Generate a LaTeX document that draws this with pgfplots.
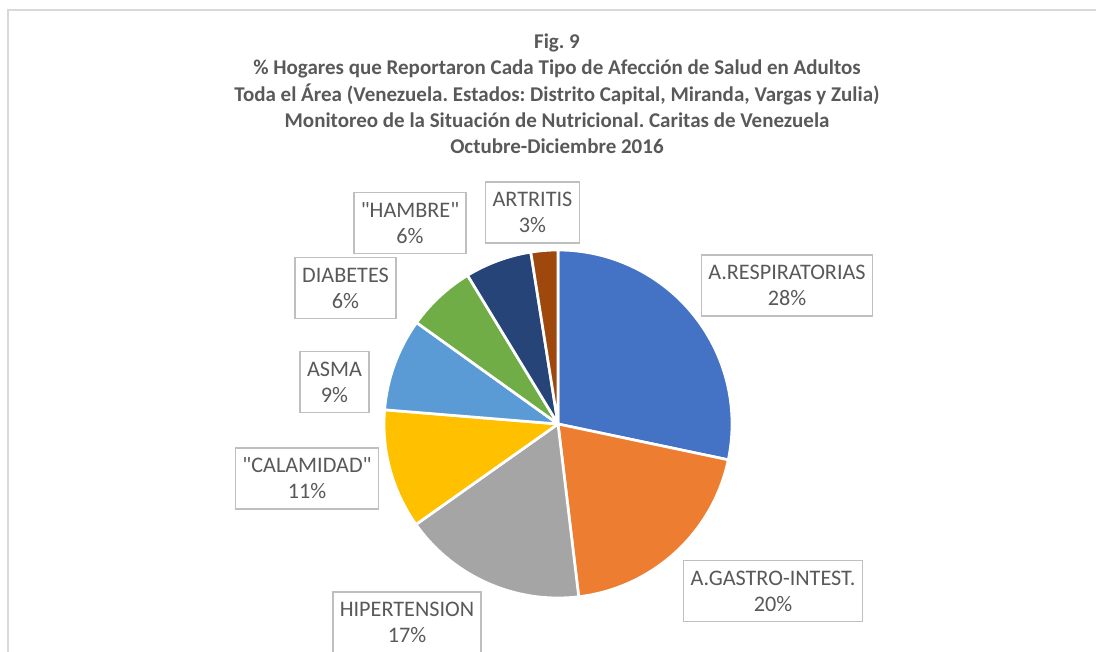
\documentclass[border=0pt]{standalone}
\usepackage{fontspec}
\setmainfont{Carlito}[Ligatures=TeXOff]
\usepackage{pgfplots}
\pgfplotsset{compat=1.18}
\frenchspacing
\definecolor{txtgray}{HTML}{595959}
\definecolor{boxgray}{HTML}{BFBFBF}
\definecolor{framegray}{HTML}{D9D9D9}
\definecolor{cResp}{HTML}{4472C4}
\definecolor{cGastro}{HTML}{ED7D31}
\definecolor{cHip}{HTML}{A5A5A5}
\definecolor{cCal}{HTML}{FFC000}
\definecolor{cAsma}{HTML}{5B9BD5}
\definecolor{cDiab}{HTML}{70AD47}
\definecolor{cHambre}{HTML}{264478}
\definecolor{cArt}{HTML}{9E480E}
\tikzset{
    lbl/.style={draw=boxgray, line width=1.6bp, fill=white, text=txtgray,
        font=\fontsize{22.2bp}{26bp}\selectfont, align=center,
        inner xsep=7bp, minimum height=61bp},
    ttl/.style={text=txtgray, font=\fontsize{21bp}{24bp}\selectfont\bfseries, anchor=base},
}
\pgfplotsset{canvas/.style={
    width=1096bp, height=652bp,
    scale only axis,
    xmin=0, xmax=1096,
    ymin=0, ymax=652,
    hide axis,
    clip=false}}

\begin{document}
\begin{tikzpicture}
\begin{axis}[canvas]
% chart frame (left and top edges visible)
\draw[framegray, line width=2.5bp] (axis cs:8,-5) -- (axis cs:8,642) -- (axis cs:1100,642);
% pie centre
\coordinate (C) at (axis cs:558,228);
% title
\node[ttl] at (axis cs:557,603) {Fig. 9};
\node[ttl] at (axis cs:557,577) {\% Hogares que Reportaron Cada Tipo de Afección de Salud en Adultos};
\node[ttl] at (axis cs:557,550.5) {Toda el Área (Venezuela. Estados: Distrito Capital, Miranda, Vargas y Zulia)};
\node[ttl] at (axis cs:557,524.2) {Monitoreo de la Situación de Nutricional. Caritas de Venezuela};
\node[ttl] at (axis cs:557,498) {Octubre-Diciembre 2016};
\end{axis}

% slices, clockwise from 12 o'clock, share in percent
\foreach \v/\c [remember=\e as \s (initially 90)] in
    {28.3/cResp, 19.8/cGastro, 17.1/cHip, 11.1/cCal, 8.6/cAsma, 6.4/cDiab, 6.2/cHambre, 2.5/cArt}{
  \pgfmathsetmacro\e{\s-3.6*\v}
  \fill[\c, draw=white, line width=2.7bp, line join=round]
    (C) -- ++(\s:174bp) arc[start angle=\s, end angle=\e, radius=174bp] -- cycle;
}

\begin{axis}[canvas]
\node[lbl] at (axis cs:787,366.5) {A.RESPIRATORIAS\\28\%};
\node[lbl] at (axis cs:773,61) {A.GASTRO-INTEST.\\20\%};
\node[lbl] at (axis cs:407,29.5) {HIPERTENSION\\17\%};
\node[lbl] at (axis cs:307,173.5) {"CALAMIDAD"\\11\%};
\node[lbl] at (axis cs:334.5,270) {ASMA\\9\%};
\node[lbl] at (axis cs:345.5,364) {DIABETES\\6\%};
\node[lbl] at (axis cs:410,429) {"HAMBRE"\\6\%};
\node[lbl] at (axis cs:532.5,439.5) {ARTRITIS\\3\%};
\end{axis}
\pgfresetboundingbox
\path[use as bounding box] (0,0) rectangle (1096bp,652bp);
\end{tikzpicture}
\end{document}
